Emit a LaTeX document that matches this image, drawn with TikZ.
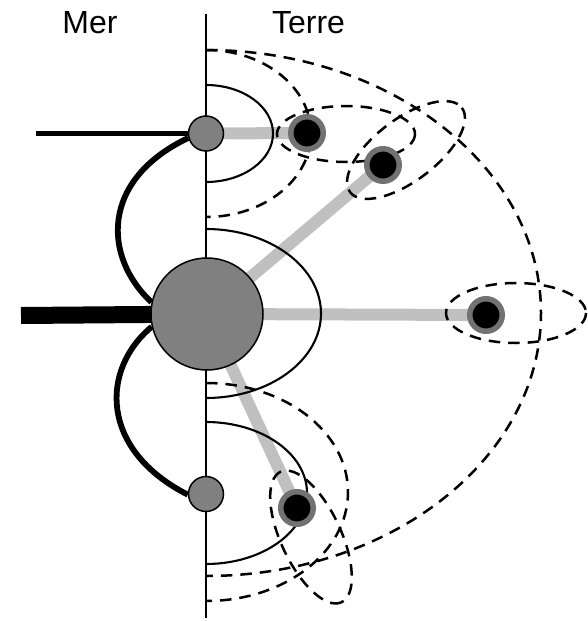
\documentclass[tikz,border=0pt]{standalone}
\usepackage{fontspec}
\setmainfont{Liberation Sans}
\pgfdeclarelayer{bg}
\pgfsetlayers{bg,main}
\definecolor{discgray}{HTML}{808080}
\definecolor{linkgray}{HTML}{C0C0C0}
\definecolor{ringgray}{HTML}{727272}
\begin{document}
\begin{tikzpicture}[x=1pt,y=-1pt,
  coast/.style={circle,draw=black,line width=1.5pt,fill=discgray,inner sep=0pt},
  well/.style={circle,fill=black,draw=ringgray,line width=5.5pt,inner sep=0pt,minimum size=32.5pt},
  link/.style={draw=linkgray,line width=12pt},
  zone/.style={line width=2.1pt},
  limit/.style={line width=2.5pt,dash pattern=on 11.5pt off 8pt},
  heavy/.style={line width=5.8pt},
  label/.style={font=\fontsize{32}{38}\selectfont,anchor=base,inner sep=0pt}]
\useasboundingbox (0,0) rectangle (587,621);
\node[label] (mer) at (90,33) {Mer};
\node[label] (terre) at (308.5,33) {Terre};
\node[coast,minimum size=35pt] (topc) at (206,133.5) {};
\node[coast,minimum size=112pt] (big) at (207,314) {};
\node[coast,minimum size=35pt] (botc) at (206,494) {};
\node[well] (s1) at (307,133) {};
\node[well] (s2) at (383,165) {};
\node[well] (s3) at (486,315) {};
\node[well] (s4) at (297,508) {};
\coordinate (axtop) at (206,14);
\coordinate (axbot) at (206,618);
\coordinate (pipeend) at (36,133.5);
\coordinate (barend) at (21,315.5);
\begin{pgfonlayer}{bg}
\draw[line width=2.3pt] (axtop) -- (axbot);
\draw[link] (topc.center) -- (s1.center);
\draw[link] (big.center) -- (s2.center);
\draw[link] (big.center) -- (s3.center);
\draw[link] (big.center) -- (s4.center);
\draw[zone] (206,85) arc[start angle=-90,end angle=90,x radius=67,y radius=48.5];
\draw[zone] (206,229) arc[start angle=-90,end angle=90,x radius=115,y radius=84.5];
\draw[zone] (206,422) arc[start angle=-90,end angle=90,x radius=101,y radius=71];
\draw[limit] (206,50) arc[start angle=-90,end angle=90,x radius=335,y radius=263];
\draw[limit] (206,50) arc[start angle=-90,end angle=90,x radius=105,y radius=83.5];
\draw[limit] (206,383) arc[start angle=-90,end angle=90,x radius=142,y radius=109];
\draw[limit] (346,134) ellipse[x radius=69,y radius=28];
\draw[limit,rotate around={37:(406,150)}] (406,150) ellipse[x radius=70,y radius=31];
\draw[limit] (516,313) ellipse[x radius=70,y radius=30];
\draw[limit,rotate around={-65:(311,537)}] (311,537) ellipse[x radius=72,y radius=30];
\draw[heavy] (pipeend) -- (topc.west);
\draw[line width=17pt] (barend) -- (big.center);
\draw[heavy] (topc.194) .. controls (100,180) and (103,257) .. (big.168);
\draw[heavy] (big.193) .. controls (100,370) and (100,450) .. (botc.182);
\end{pgfonlayer}
\end{tikzpicture}
\end{document}
